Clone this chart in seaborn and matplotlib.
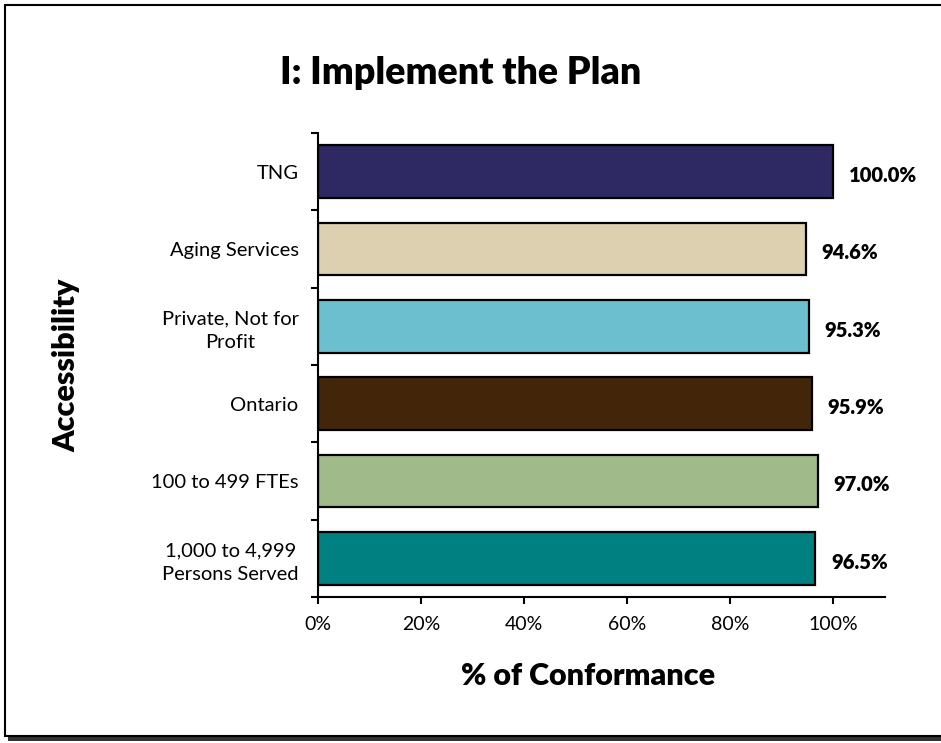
import matplotlib
matplotlib.use("Agg")
import matplotlib.pyplot as plt
from matplotlib.patches import Rectangle
import seaborn as sns
import pandas as pd

categories = ["TNG", "Aging Services", "Private, Not for\nProfit", "Ontario",
              "100 to 499 FTEs", "1,000 to 4,999\nPersons Served"]
values = [100.0, 94.6, 95.3, 95.9, 97.0, 96.5]
colors = ["#2E2963", "#DDD0B0", "#6BBFCF", "#42260A", "#A1BA8A", "#008080"]
x_ticks = [0, 20, 40, 60, 80, 100]
x_tick_labels = ["0%", "20%", "40%", "60%", "80%", "100%"]

sns.set_theme(style="white")
plt.rcParams["font.family"] = ["Lato", "DejaVu Sans"]
plt.rcParams["text.color"] = "black"
plt.rcParams["axes.labelcolor"] = "black"
plt.rcParams["xtick.color"] = "black"
plt.rcParams["ytick.color"] = "black"

df = pd.DataFrame({"group": categories, "pct": values})

fig = plt.figure(figsize=(9.41, 7.43), dpi=100)
ax = fig.add_axes([0.338, 0.1965, 0.6025, 0.6245])

sns.barplot(data=df, x="pct", y="group", hue="group", palette=colors,
            order=categories, hue_order=categories, orient="h", saturation=1,
            width=0.68, edgecolor="black", linewidth=1.6, legend=False, ax=ax)

ax.set_xlim(0, 110)
ax.set_ylim(len(categories) - 0.5, -0.5)
ax.set_xticks(x_ticks)
ax.set_xticklabels(x_tick_labels, fontsize=14)
ax.set_yticks(range(len(categories)))
ax.set_yticklabels(categories, fontsize=14.5, multialignment="center",
                   linespacing=1.45)
ax.set_yticks([i - 0.5 for i in range(len(categories) + 1)], minor=True)
ax.tick_params(axis="y", which="major", length=0, pad=14)
ax.tick_params(axis="y", which="minor", length=5, width=1.5, direction="out",
               color="black", left=True)
ax.tick_params(axis="x", which="major", length=5, width=1.5, direction="out",
               color="black", bottom=True, pad=9)

for side in ["top", "right"]:
    ax.spines[side].set_visible(False)
for side in ["left", "bottom"]:
    ax.spines[side].set_color("black")
    ax.spines[side].set_linewidth(1.5)

for i, v in enumerate(values):
    ax.text(v + 3, i + 0.05, f"{v:.1f}%", ha="left", va="center",
            fontsize=14.5, fontweight="heavy", color="black")

ax.set_xlabel("% of Conformance", fontsize=22, fontweight="heavy")
ax.xaxis.set_label_coords(0.477, -0.14)
ax.set_ylabel("Accessibility", fontsize=22, fontweight="heavy")
ax.yaxis.set_label_coords(-0.42, 0.5)

fig.text(0.489, 0.902, "I: Implement the Plan", ha="center", va="center",
         fontsize=27, fontweight="heavy")

# Framed chart area with a drop shadow along the bottom edge
fig.patches.append(Rectangle((8 / 941, 2 / 743), 1.0, 733 / 743,
                             transform=fig.transFigure, facecolor="#333333",
                             edgecolor="none", zorder=-2))
fig.patches.append(Rectangle((5 / 941, 7 / 743), 1.0, 731 / 743,
                             transform=fig.transFigure, facecolor="white",
                             edgecolor="black", linewidth=1.5, zorder=-1))

fig.savefig("out.png", dpi=100, facecolor="white")
